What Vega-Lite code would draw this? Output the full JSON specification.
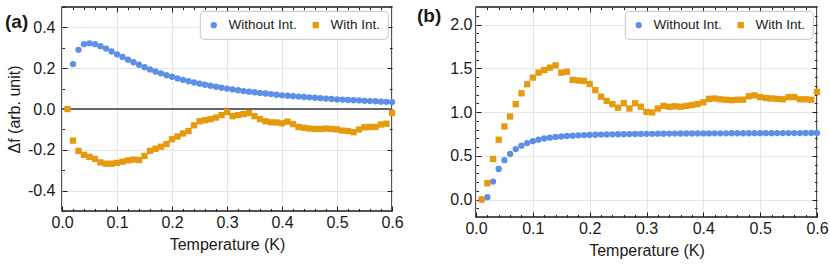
{
  "$schema": "https://vega.github.io/schema/vega-lite/v6.json",
  "padding": {"left": 4, "top": 5, "right": 0, "bottom": 5},
  "background": "white",
  "resolve": {"legend": {"color": "independent", "shape": "independent"}, "scale": {"color": "independent", "shape": "independent"}},
  "config": {
    "font": "Liberation Sans",
    "view": {"stroke": "#1a1a1a", "strokeWidth": 1.5},
    "axis": {
      "labelFont": "Liberation Sans", "labelFontSize": 16, "labelColor": "#1a1a1a",
      "titleFont": "Liberation Sans", "titleFontSize": 16, "titleFontWeight": "normal", "titleColor": "#1a1a1a",
      "domain": false, "tickColor": "#1a1a1a", "tickWidth": 1, "gridColor": "#e6e6e6", "gridWidth": 1,
      "labelFlush": false, "labelOverlap": false
    },
    "legend": {
      "orient": "top-right", "direction": "horizontal", "offset": 4, "padding": 7,
      "strokeColor": "#b8b8b8", "strokeWidth": 0.8, "cornerRadius": 4, "fillColor": "white",
      "labelFont": "Liberation Sans", "labelFontSize": 13.5, "labelColor": "#1a1a1a",
      "symbolSize": 40, "symbolStrokeWidth": 0, "labelOffset": 8, "columnPadding": 12
    },
    "title": {"font": "Liberation Sans", "fontSize": 19, "fontWeight": "bold", "color": "#1a1a1a"},
    "concat": {"spacing": 12}
  },
  "datasets": {
    "a": [
      {"T":0.01,"v":0,"s":"Without Int."},{"T":0.02,"v":0.22,"s":"Without Int."},{"T":0.03,"v":0.29,"s":"Without Int."},{"T":0.04,"v":0.318,"s":"Without Int."},{"T":0.05,"v":0.322,"s":"Without Int."},{"T":0.06,"v":0.318,"s":"Without Int."},{"T":0.07,"v":0.308,"s":"Without Int."},{"T":0.08,"v":0.296,"s":"Without Int."},{"T":0.09,"v":0.282,"s":"Without Int."},{"T":0.10,"v":0.268,"s":"Without Int."},
      {"T":0.11,"v":0.255,"s":"Without Int."},{"T":0.12,"v":0.242,"s":"Without Int."},{"T":0.13,"v":0.229,"s":"Without Int."},{"T":0.14,"v":0.217,"s":"Without Int."},{"T":0.15,"v":0.205,"s":"Without Int."},{"T":0.16,"v":0.194,"s":"Without Int."},{"T":0.17,"v":0.184,"s":"Without Int."},{"T":0.18,"v":0.175,"s":"Without Int."},{"T":0.19,"v":0.166,"s":"Without Int."},{"T":0.20,"v":0.158,"s":"Without Int."},
      {"T":0.21,"v":0.150,"s":"Without Int."},{"T":0.22,"v":0.143,"s":"Without Int."},{"T":0.23,"v":0.136,"s":"Without Int."},{"T":0.24,"v":0.130,"s":"Without Int."},{"T":0.25,"v":0.124,"s":"Without Int."},{"T":0.26,"v":0.119,"s":"Without Int."},{"T":0.27,"v":0.114,"s":"Without Int."},{"T":0.28,"v":0.109,"s":"Without Int."},{"T":0.29,"v":0.104,"s":"Without Int."},{"T":0.30,"v":0.100,"s":"Without Int."},
      {"T":0.31,"v":0.096,"s":"Without Int."},{"T":0.32,"v":0.092,"s":"Without Int."},{"T":0.33,"v":0.088,"s":"Without Int."},{"T":0.34,"v":0.085,"s":"Without Int."},{"T":0.35,"v":0.082,"s":"Without Int."},{"T":0.36,"v":0.079,"s":"Without Int."},{"T":0.37,"v":0.076,"s":"Without Int."},{"T":0.38,"v":0.073,"s":"Without Int."},{"T":0.39,"v":0.070,"s":"Without Int."},{"T":0.40,"v":0.067,"s":"Without Int."},
      {"T":0.41,"v":0.065,"s":"Without Int."},{"T":0.42,"v":0.063,"s":"Without Int."},{"T":0.43,"v":0.061,"s":"Without Int."},{"T":0.44,"v":0.059,"s":"Without Int."},{"T":0.45,"v":0.057,"s":"Without Int."},{"T":0.46,"v":0.055,"s":"Without Int."},{"T":0.47,"v":0.053,"s":"Without Int."},{"T":0.48,"v":0.051,"s":"Without Int."},{"T":0.49,"v":0.049,"s":"Without Int."},{"T":0.50,"v":0.047,"s":"Without Int."},
      {"T":0.51,"v":0.046,"s":"Without Int."},{"T":0.52,"v":0.044,"s":"Without Int."},{"T":0.53,"v":0.043,"s":"Without Int."},{"T":0.54,"v":0.042,"s":"Without Int."},{"T":0.55,"v":0.040,"s":"Without Int."},{"T":0.56,"v":0.039,"s":"Without Int."},{"T":0.57,"v":0.038,"s":"Without Int."},{"T":0.58,"v":0.036,"s":"Without Int."},{"T":0.59,"v":0.035,"s":"Without Int."},{"T":0.60,"v":0.034,"s":"Without Int."},
      {"T":0.01,"v":0.0,"s":"With Int."},{"T":0.02,"v":-0.155,"s":"With Int."},{"T":0.03,"v":-0.205,"s":"With Int."},{"T":0.04,"v":-0.225,"s":"With Int."},{"T":0.05,"v":-0.235,"s":"With Int."},{"T":0.06,"v":-0.245,"s":"With Int."},{"T":0.07,"v":-0.262,"s":"With Int."},{"T":0.08,"v":-0.268,"s":"With Int."},{"T":0.09,"v":-0.268,"s":"With Int."},{"T":0.10,"v":-0.264,"s":"With Int."},
      {"T":0.11,"v":-0.258,"s":"With Int."},{"T":0.12,"v":-0.252,"s":"With Int."},{"T":0.13,"v":-0.248,"s":"With Int."},{"T":0.14,"v":-0.25,"s":"With Int."},{"T":0.15,"v":-0.23,"s":"With Int."},{"T":0.16,"v":-0.205,"s":"With Int."},{"T":0.17,"v":-0.195,"s":"With Int."},{"T":0.18,"v":-0.185,"s":"With Int."},{"T":0.19,"v":-0.172,"s":"With Int."},{"T":0.20,"v":-0.148,"s":"With Int."},
      {"T":0.21,"v":-0.135,"s":"With Int."},{"T":0.22,"v":-0.12,"s":"With Int."},{"T":0.23,"v":-0.108,"s":"With Int."},{"T":0.24,"v":-0.08,"s":"With Int."},{"T":0.25,"v":-0.06,"s":"With Int."},{"T":0.26,"v":-0.055,"s":"With Int."},{"T":0.27,"v":-0.05,"s":"With Int."},{"T":0.28,"v":-0.042,"s":"With Int."},{"T":0.29,"v":-0.03,"s":"With Int."},{"T":0.30,"v":-0.015,"s":"With Int."},
      {"T":0.31,"v":-0.035,"s":"With Int."},{"T":0.32,"v":-0.03,"s":"With Int."},{"T":0.33,"v":-0.025,"s":"With Int."},{"T":0.34,"v":-0.02,"s":"With Int."},{"T":0.35,"v":-0.035,"s":"With Int."},{"T":0.36,"v":-0.05,"s":"With Int."},{"T":0.37,"v":-0.06,"s":"With Int."},{"T":0.38,"v":-0.065,"s":"With Int."},{"T":0.39,"v":-0.066,"s":"With Int."},{"T":0.40,"v":-0.07,"s":"With Int."},
      {"T":0.41,"v":-0.062,"s":"With Int."},{"T":0.42,"v":-0.074,"s":"With Int."},{"T":0.43,"v":-0.088,"s":"With Int."},{"T":0.44,"v":-0.092,"s":"With Int."},{"T":0.45,"v":-0.096,"s":"With Int."},{"T":0.46,"v":-0.098,"s":"With Int."},{"T":0.47,"v":-0.098,"s":"With Int."},{"T":0.48,"v":-0.096,"s":"With Int."},{"T":0.49,"v":-0.098,"s":"With Int."},{"T":0.50,"v":-0.1,"s":"With Int."},
      {"T":0.51,"v":-0.106,"s":"With Int."},{"T":0.52,"v":-0.108,"s":"With Int."},{"T":0.53,"v":-0.114,"s":"With Int."},{"T":0.54,"v":-0.1,"s":"With Int."},{"T":0.55,"v":-0.09,"s":"With Int."},{"T":0.56,"v":-0.088,"s":"With Int."},{"T":0.57,"v":-0.088,"s":"With Int."},{"T":0.58,"v":-0.076,"s":"With Int."},{"T":0.59,"v":-0.072,"s":"With Int."},{"T":0.60,"v":-0.02,"s":"With Int."}
    ],
    "b": [
      {"T":0.01,"v":0,"s":"Without Int."},{"T":0.02,"v":0.026,"s":"Without Int."},{"T":0.03,"v":0.205,"s":"Without Int."},{"T":0.04,"v":0.35,"s":"Without Int."},{"T":0.05,"v":0.45,"s":"Without Int."},{"T":0.06,"v":0.52,"s":"Without Int."},{"T":0.07,"v":0.576,"s":"Without Int."},{"T":0.08,"v":0.615,"s":"Without Int."},{"T":0.09,"v":0.645,"s":"Without Int."},{"T":0.10,"v":0.667,"s":"Without Int."},
      {"T":0.11,"v":0.684,"s":"Without Int."},{"T":0.12,"v":0.697,"s":"Without Int."},{"T":0.13,"v":0.707,"s":"Without Int."},{"T":0.14,"v":0.715,"s":"Without Int."},{"T":0.15,"v":0.721,"s":"Without Int."},{"T":0.16,"v":0.726,"s":"Without Int."},{"T":0.17,"v":0.730,"s":"Without Int."},{"T":0.18,"v":0.733,"s":"Without Int."},{"T":0.19,"v":0.736,"s":"Without Int."},{"T":0.20,"v":0.738,"s":"Without Int."},
      {"T":0.21,"v":0.740,"s":"Without Int."},{"T":0.22,"v":0.742,"s":"Without Int."},{"T":0.23,"v":0.744,"s":"Without Int."},{"T":0.24,"v":0.745,"s":"Without Int."},{"T":0.25,"v":0.746,"s":"Without Int."},{"T":0.26,"v":0.747,"s":"Without Int."},{"T":0.27,"v":0.748,"s":"Without Int."},{"T":0.28,"v":0.749,"s":"Without Int."},{"T":0.29,"v":0.750,"s":"Without Int."},{"T":0.30,"v":0.751,"s":"Without Int."},
      {"T":0.31,"v":0.751,"s":"Without Int."},{"T":0.32,"v":0.752,"s":"Without Int."},{"T":0.33,"v":0.752,"s":"Without Int."},{"T":0.34,"v":0.753,"s":"Without Int."},{"T":0.35,"v":0.753,"s":"Without Int."},{"T":0.36,"v":0.754,"s":"Without Int."},{"T":0.37,"v":0.754,"s":"Without Int."},{"T":0.38,"v":0.754,"s":"Without Int."},{"T":0.39,"v":0.755,"s":"Without Int."},{"T":0.40,"v":0.755,"s":"Without Int."},
      {"T":0.41,"v":0.755,"s":"Without Int."},{"T":0.42,"v":0.756,"s":"Without Int."},{"T":0.43,"v":0.756,"s":"Without Int."},{"T":0.44,"v":0.756,"s":"Without Int."},{"T":0.45,"v":0.757,"s":"Without Int."},{"T":0.46,"v":0.757,"s":"Without Int."},{"T":0.47,"v":0.757,"s":"Without Int."},{"T":0.48,"v":0.757,"s":"Without Int."},{"T":0.49,"v":0.758,"s":"Without Int."},{"T":0.50,"v":0.758,"s":"Without Int."},
      {"T":0.51,"v":0.758,"s":"Without Int."},{"T":0.52,"v":0.758,"s":"Without Int."},{"T":0.53,"v":0.759,"s":"Without Int."},{"T":0.54,"v":0.759,"s":"Without Int."},{"T":0.55,"v":0.759,"s":"Without Int."},{"T":0.56,"v":0.759,"s":"Without Int."},{"T":0.57,"v":0.759,"s":"Without Int."},{"T":0.58,"v":0.760,"s":"Without Int."},{"T":0.59,"v":0.760,"s":"Without Int."},{"T":0.60,"v":0.760,"s":"Without Int."},
      {"T":0.01,"v":0.0,"s":"With Int."},{"T":0.02,"v":0.186,"s":"With Int."},{"T":0.03,"v":0.463,"s":"With Int."},{"T":0.04,"v":0.683,"s":"With Int."},{"T":0.05,"v":0.835,"s":"With Int."},{"T":0.06,"v":0.949,"s":"With Int."},{"T":0.07,"v":1.09,"s":"With Int."},{"T":0.08,"v":1.214,"s":"With Int."},{"T":0.09,"v":1.317,"s":"With Int."},{"T":0.10,"v":1.393,"s":"With Int."},
      {"T":0.11,"v":1.45,"s":"With Int."},{"T":0.12,"v":1.48,"s":"With Int."},{"T":0.13,"v":1.507,"s":"With Int."},{"T":0.14,"v":1.533,"s":"With Int."},{"T":0.15,"v":1.45,"s":"With Int."},{"T":0.16,"v":1.46,"s":"With Int."},{"T":0.17,"v":1.367,"s":"With Int."},{"T":0.18,"v":1.36,"s":"With Int."},{"T":0.19,"v":1.355,"s":"With Int."},{"T":0.20,"v":1.32,"s":"With Int."},
      {"T":0.21,"v":1.25,"s":"With Int."},{"T":0.22,"v":1.175,"s":"With Int."},{"T":0.23,"v":1.127,"s":"With Int."},{"T":0.24,"v":1.09,"s":"With Int."},{"T":0.25,"v":1.05,"s":"With Int."},{"T":0.26,"v":1.1,"s":"With Int."},{"T":0.27,"v":1.04,"s":"With Int."},{"T":0.28,"v":1.1,"s":"With Int."},{"T":0.29,"v":1.06,"s":"With Int."},{"T":0.30,"v":1.0,"s":"With Int."},
      {"T":0.31,"v":0.995,"s":"With Int."},{"T":0.32,"v":1.04,"s":"With Int."},{"T":0.33,"v":1.07,"s":"With Int."},{"T":0.34,"v":1.06,"s":"With Int."},{"T":0.35,"v":1.065,"s":"With Int."},{"T":0.36,"v":1.06,"s":"With Int."},{"T":0.37,"v":1.07,"s":"With Int."},{"T":0.38,"v":1.08,"s":"With Int."},{"T":0.39,"v":1.09,"s":"With Int."},{"T":0.40,"v":1.11,"s":"With Int."},
      {"T":0.41,"v":1.15,"s":"With Int."},{"T":0.42,"v":1.155,"s":"With Int."},{"T":0.43,"v":1.145,"s":"With Int."},{"T":0.44,"v":1.14,"s":"With Int."},{"T":0.45,"v":1.135,"s":"With Int."},{"T":0.46,"v":1.14,"s":"With Int."},{"T":0.47,"v":1.14,"s":"With Int."},{"T":0.48,"v":1.18,"s":"With Int."},{"T":0.49,"v":1.19,"s":"With Int."},{"T":0.50,"v":1.17,"s":"With Int."},
      {"T":0.51,"v":1.16,"s":"With Int."},{"T":0.52,"v":1.155,"s":"With Int."},{"T":0.53,"v":1.15,"s":"With Int."},{"T":0.54,"v":1.145,"s":"With Int."},{"T":0.55,"v":1.17,"s":"With Int."},{"T":0.56,"v":1.17,"s":"With Int."},{"T":0.57,"v":1.145,"s":"With Int."},{"T":0.58,"v":1.145,"s":"With Int."},{"T":0.59,"v":1.14,"s":"With Int."},{"T":0.60,"v":1.23,"s":"With Int."}
    ]
  },
  "hconcat": [
    {
      "width": 330, "height": 204,
      "title": {"text": "(a)", "anchor": "start", "frame": "group", "offset": 0, "dx": -57, "dy": 25},
      "data": {"name": "a"},
      "resolve": {"axis": {"x": "independent", "y": "independent"}},
      "layer": [
        {
          "mark": {"type": "rule", "color": "#666666", "strokeWidth": 1},
          "encoding": {"y": {"datum": 0, "type": "quantitative", "axis": null}}
        },
        {
          "mark": {"type": "point", "filled": true, "opacity": 1, "size": 40, "strokeWidth": 0},
          "encoding": {
            "x": {"field": "T", "type": "quantitative", "scale": {"domain": [0, 0.6], "nice": false, "zero": false},
                  "axis": {"orient": "bottom", "values": [0, 0.1, 0.2, 0.3, 0.4, 0.5, 0.6], "format": ".1f", "tickSize": -5, "labelPadding": 8.5, "title": "Temperature (K)", "titlePadding": 6, "grid": true}},
            "y": {"field": "v", "type": "quantitative", "scale": {"domain": [-0.5, 0.5], "nice": false, "zero": false},
                  "axis": {"orient": "left", "values": [-0.4, -0.2, 0, 0.2, 0.4], "labelExpr": "replace(format(datum.value, '.1f'), '\u2212', '-')", "tickSize": -5, "labelPadding": 12, "title": "\u0394f (arb. unit)", "titlePadding": 5, "grid": true}},
            "color": {"field": "s", "type": "nominal", "scale": {"domain": ["Without Int.", "With Int."], "range": ["#5b8fe8", "#e69b0e"]}, "legend": {"title": null}},
            "shape": {"field": "s", "type": "nominal", "scale": {"domain": ["Without Int.", "With Int."], "range": ["circle", "square"]}, "legend": {"title": null}}
          }
        },
        {
          "mark": {"type": "point", "opacity": 0},
          "encoding": {
            "x": {"field": "T", "type": "quantitative", "axis": {"orient": "bottom", "values": [0.02,0.04,0.06,0.08,0.12,0.14,0.16,0.18,0.22,0.24,0.26,0.28,0.32,0.34,0.36,0.38,0.42,0.44,0.46,0.48,0.52,0.54,0.56,0.58], "labels": false, "tickSize": -2.5, "title": null, "grid": false}},
            "y": {"field": "v", "type": "quantitative", "axis": {"orient": "left", "values": [-0.5,-0.3,-0.1,0.1,0.3,0.5], "labels": false, "tickSize": -2.5, "title": null, "grid": false}}
          }
        },
        {
          "mark": {"type": "point", "opacity": 0},
          "encoding": {
            "x": {"field": "T", "type": "quantitative", "axis": {"orient": "top", "values": [0.1,0.2,0.3,0.4,0.5], "labels": false, "tickSize": -5, "title": null, "grid": false}},
            "y": {"field": "v", "type": "quantitative", "axis": {"orient": "right", "values": [-0.4, -0.2, 0, 0.2, 0.4], "labels": false, "tickSize": -5, "title": null, "grid": false}}
          }
        },
        {
          "mark": {"type": "point", "opacity": 0},
          "encoding": {
            "x": {"field": "T", "type": "quantitative", "axis": {"orient": "top", "values": [0.02,0.04,0.06,0.08,0.12,0.14,0.16,0.18,0.22,0.24,0.26,0.28,0.32,0.34,0.36,0.38,0.42,0.44,0.46,0.48,0.52,0.54,0.56,0.58], "labels": false, "tickSize": -2.5, "title": null, "grid": false}},
            "y": {"field": "v", "type": "quantitative", "axis": {"orient": "right", "values": [-0.3,-0.1,0.1,0.3], "labels": false, "tickSize": -2.5, "title": null, "grid": false}}
          }
        }
      ]
    },
    {
      "width": 341, "height": 210,
      "title": {"text": "(b)", "anchor": "start", "frame": "group", "offset": 0, "dx": -59, "dy": 19},
      "data": {"name": "b"},
      "resolve": {"axis": {"x": "independent", "y": "independent"}},
      "layer": [
        {
          "mark": {"type": "point", "filled": true, "opacity": 1, "size": 40, "strokeWidth": 0},
          "encoding": {
            "x": {"field": "T", "type": "quantitative", "scale": {"domain": [0, 0.6], "nice": false, "zero": false},
                  "axis": {"orient": "bottom", "values": [0, 0.1, 0.2, 0.3, 0.4, 0.5, 0.6], "format": ".1f", "tickSize": -5, "labelPadding": 8.5, "title": "Temperature (K)", "titlePadding": 6, "grid": true}},
            "y": {"field": "v", "type": "quantitative", "scale": {"domain": [-0.2, 2.2], "nice": false, "zero": false},
                  "axis": {"orient": "left", "values": [0, 0.5, 1, 1.5, 2], "format": ".1f", "tickSize": -5, "labelPadding": 9, "title": null, "grid": true}},
            "color": {"field": "s", "type": "nominal", "scale": {"domain": ["Without Int.", "With Int."], "range": ["#5b8fe8", "#e69b0e"]}, "legend": {"title": null}},
            "shape": {"field": "s", "type": "nominal", "scale": {"domain": ["Without Int.", "With Int."], "range": ["circle", "square"]}, "legend": {"title": null}}
          }
        },
        {
          "mark": {"type": "point", "opacity": 0},
          "encoding": {
            "x": {"field": "T", "type": "quantitative", "axis": {"orient": "bottom", "values": [0.02,0.04,0.06,0.08,0.12,0.14,0.16,0.18,0.22,0.24,0.26,0.28,0.32,0.34,0.36,0.38,0.42,0.44,0.46,0.48,0.52,0.54,0.56,0.58], "labels": false, "tickSize": -2.5, "title": null, "grid": false}},
            "y": {"field": "v", "type": "quantitative", "axis": {"orient": "left", "values": [-0.1,0.1,0.2,0.3,0.4,0.6,0.7,0.8,0.9,1.1,1.2,1.3,1.4,1.6,1.7,1.8,1.9,2.1], "labels": false, "tickSize": -2.5, "title": null, "grid": false}}
          }
        },
        {
          "mark": {"type": "point", "opacity": 0},
          "encoding": {
            "x": {"field": "T", "type": "quantitative", "axis": {"orient": "top", "values": [0.1,0.2,0.3,0.4,0.5], "labels": false, "tickSize": -5, "title": null, "grid": false}},
            "y": {"field": "v", "type": "quantitative", "axis": {"orient": "right", "values": [0, 0.5, 1, 1.5, 2], "labels": false, "tickSize": -5, "title": null, "grid": false}}
          }
        },
        {
          "mark": {"type": "point", "opacity": 0},
          "encoding": {
            "x": {"field": "T", "type": "quantitative", "axis": {"orient": "top", "values": [0.02,0.04,0.06,0.08,0.12,0.14,0.16,0.18,0.22,0.24,0.26,0.28,0.32,0.34,0.36,0.38,0.42,0.44,0.46,0.48,0.52,0.54,0.56,0.58], "labels": false, "tickSize": -2.5, "title": null, "grid": false}},
            "y": {"field": "v", "type": "quantitative", "axis": {"orient": "right", "values": [-0.1,0.1,0.2,0.3,0.4,0.6,0.7,0.8,0.9,1.1,1.2,1.3,1.4,1.6,1.7,1.8,1.9,2.1], "labels": false, "tickSize": -2.5, "title": null, "grid": false}}
          }
        }
      ]
    }
  ]
}
